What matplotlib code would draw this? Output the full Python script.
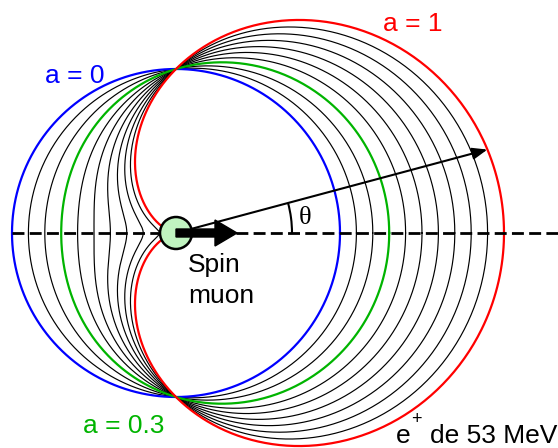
import numpy as np
import matplotlib.pyplot as plt
from matplotlib.patches import Circle, FancyArrow, Arc

plt.rcParams['font.family'] = ['Liberation Sans', 'DejaVu Sans']

# asymmetry parameter of each curve, r = R (1 + a cos(theta))
a_values = [0.0, 0.1, 0.2, 0.3, 0.4, 0.5, 0.6, 0.7, 0.8, 0.9, 1.0]
highlight = {0.0: '#0000ff', 0.3: '#00b400', 1.0: '#ff0000'}
label_a0 = "a = 0"
label_a03 = "a = 0.3"
label_a1 = "a = 1"
theta_e = 15.0  # emission angle of the drawn positron (deg)

# drawing frame in pixels
x0, y0 = 176, 233
R = 164
fs = 19

fig = plt.figure(figsize=(5.58, 4.48), dpi=100)
ax = fig.add_axes([0, 0, 1, 1])
ax.set_xlim(0, 558)
ax.set_ylim(448, 0)
ax.axis('off')

t = np.linspace(0, 2 * np.pi, 721)
for a in a_values:
    if a in highlight:
        continue
    r = R * (1 + a * np.cos(t))
    ax.plot(x0 + r * np.cos(t), y0 - r * np.sin(t), color='black', lw=0.85)
for a in [0.0, 0.3, 1.0]:
    r = R * (1 + a * np.cos(t))
    ax.plot(x0 + r * np.cos(t), y0 - r * np.sin(t), color=highlight[a], lw=1.6)

# spin axis
ax.plot([12, 558], [y0, y0], color='black', lw=2.0, dashes=(4.3, 1.9))

# positron direction
th = np.radians(theta_e)
re = R * (1 + np.cos(th))
ax.annotate('', xy=(x0 + re * np.cos(th), y0 - re * np.sin(th)), xytext=(x0, y0),
            arrowprops=dict(arrowstyle='-|>,head_length=0.9,head_width=0.35',
                            color='black', lw=1.5, shrinkA=0, shrinkB=0))
ax.add_patch(Arc((x0, y0), 2 * 116, 2 * 116, theta1=-theta_e, theta2=0,
                 color='black', lw=1.5))
ax.text(305, 218, "θ", fontsize=fs, family='Liberation Serif', ha='center', va='center')

# muon and its spin
ax.add_patch(Circle((x0, y0), 16, facecolor='#c0f4c0', edgecolor='black', lw=1.8, zorder=5))
ax.add_patch(FancyArrow(x0, y0, 61, 0, width=8, head_width=26, head_length=22,
                        length_includes_head=True, color='black', zorder=6))
ax.text(188, 272, "Spin", fontsize=fs, ha='left', va='baseline')
ax.text(188, 303, "muon", fontsize=fs, ha='left', va='baseline')

ax.text(75, 83, label_a0, fontsize=fs, color=highlight[0.0], ha='center', va='baseline')
ax.text(413, 31, label_a1, fontsize=fs, color=highlight[1.0], ha='center', va='baseline')
ax.text(124, 433, label_a03, fontsize=fs, color=highlight[0.3], ha='center', va='baseline')

# positron energy label
ax.text(396, 443, "e", fontsize=fs, ha='left', va='baseline')
ax.text(416, 419, "+", fontsize=13, ha='center', va='center')
ax.text(430, 443, "de 53 MeV", fontsize=fs, ha='left', va='baseline')

fig.savefig('out.png', dpi=100)
